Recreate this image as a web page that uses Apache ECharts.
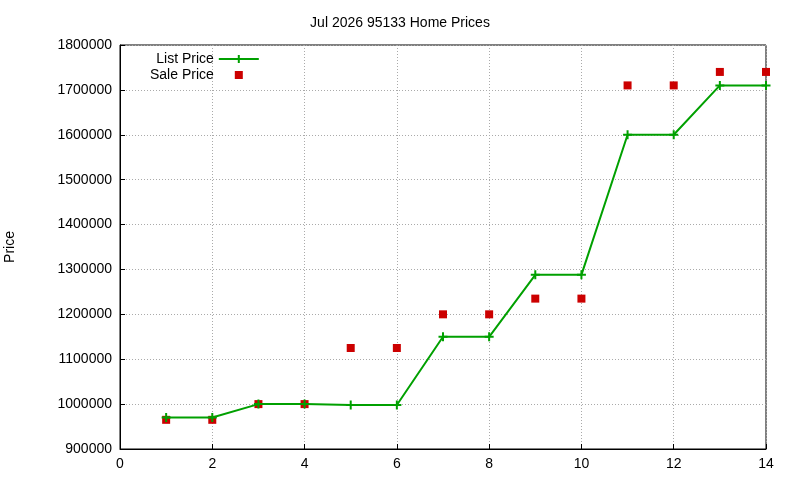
<!DOCTYPE html>
<html><head><meta charset="utf-8">
<script src="https://cdn.jsdelivr.net/npm/echarts@6/dist/echarts.min.js"></script>
<style>html,body{margin:0;padding:0;background:#fff}#c{width:800px;height:480px}</style>
</head><body><div id="c"></div>
<script>
const xs = [1,2,3,4,5,6,7,8,9,10,11,12,13,14];
const listPrice = [970000,970000,1000000,1000000,998000,998000,1150000,1150000,1288000,1288000,1600000,1600000,1710000,1710000];
const salePrice = [965000,965000,1000000,1000000,1125000,1125000,1200000,1200000,1235000,1235000,1710000,1710000,1740000,1740000];
const chart = echarts.init(document.getElementById('c'));
const font = 'Liberation Sans, Arial, sans-serif';
chart.setOption({
  animation:false,
  title:{text:'Jul 2026 95133 Home Prices',left:'center',top:11,textStyle:{fontFamily:font,fontSize:14,fontWeight:'normal',color:'#000'}},
  grid:{left:120,right:34,top:45,bottom:31,containLabel:false,outerBoundsMode:'none'},
  legend:{orient:'vertical',left:145,top:47,align:'right',itemGap:2,itemWidth:40,itemHeight:10,
    textStyle:{fontFamily:font,fontSize:14,color:'#000'},
    data:[{name:'List Price'},{name:'Sale Price',icon:'path://M0,5L0.01,5L0,5Z M16,1L24,1L24,9L16,9Z M40,5L39.99,5L40,5Z'}]},
  xAxis:{type:'value',min:0,max:14,interval:2,
    axisLine:{lineStyle:{color:'#000'}},axisTick:{inside:true,lineStyle:{color:'#000'}},
    axisLabel:{fontFamily:font,fontSize:14,color:'#000'},
    splitLine:{show:true,lineStyle:{color:'#aaa',type:[1,2]}}},
  yAxis:{type:'value',min:900000,max:1800000,interval:100000,name:'Price',nameLocation:'middle',nameGap:103,
    nameTextStyle:{fontFamily:font,fontSize:14,color:'#000'},
    axisLine:{show:true,lineStyle:{color:'#000'}},axisTick:{inside:true,lineStyle:{color:'#000'}},
    axisLabel:{fontFamily:font,fontSize:14,color:'#000',formatter:v=>String(v)},
    splitLine:{show:true,lineStyle:{color:'#aaa',type:[1,2]}}},
  series:[
    {name:'List Price',type:'line',data:xs.map((x,i)=>[x,listPrice[i]]),color:'#00a000',
     lineStyle:{width:2,color:'#00a000'},symbol:'path://M0,5L10,5M5,0L5,10',symbolSize:9,
     itemStyle:{color:'#00a000',borderColor:'#00a000',borderWidth:2}},
    {name:'Sale Price',type:'scatter',data:xs.map((x,i)=>[x,salePrice[i]]),color:'#cc0000',
     symbol:'rect',symbolSize:8,itemStyle:{color:'#cc0000',opacity:1}}
  ],
  graphic:[{type:'rect',shape:{x:120,y:45,width:646,height:404},style:{fill:'none',stroke:'#000',lineWidth:1},silent:true}]
});
</script></body></html>
